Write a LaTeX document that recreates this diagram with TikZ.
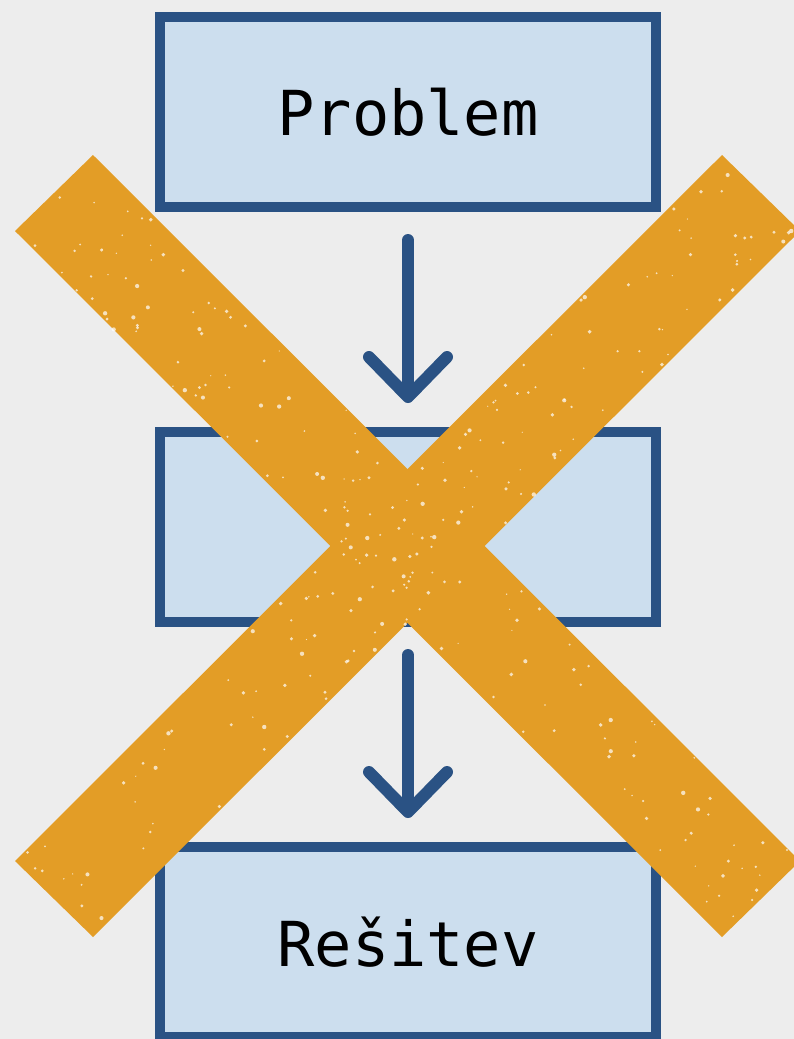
\documentclass[tikz,border=0pt]{standalone}
\usepackage{fontspec}
\setmonofont{DejaVu Sans Mono}
\usetikzlibrary{arrows.meta, positioning}
\definecolor{paper}{HTML}{EDEDED}
\definecolor{boxfill}{HTML}{CCDEEE}
\definecolor{boxline}{HTML}{2A5284}
\definecolor{crossorange}{HTML}{E39D26}

\begin{document}
\begin{tikzpicture}[
  x=1pt, y=-1pt,
  flowbox/.style={rectangle, draw=boxline, line width=10pt, fill=boxfill,
                  minimum width=496pt, minimum height=190pt, inner sep=0pt,
                  font=\ttfamily\fontsize{62}{70}\selectfont},
  flowarrow/.style={-{Straight Barb[round, length=40pt, width=78pt]},
                    line width=12pt, draw=boxline, line cap=round,
                    shorten <=28pt, shorten >=24pt},
  crossband/.style={fill=crossorange},
  speck/.style={fill=white, opacity=0.7}
]
  % page and background
  \fill[paper] (0,0) rectangle (794,1039);
  \useasboundingbox (0,0) rectangle (794,1039);
  \clip (0,0) rectangle (794,1039);

  % flow
  \node[flowbox] (problem) at (408,112) {Problem};
  \node[flowbox] (middle)  at (408,527) {};
  \node[flowbox] (solution) at (408,942) {Rešitev};

  \draw[flowarrow] (problem.south) -- (middle.north);
  \draw[flowarrow] (middle.south) -- (solution.north);

  % crossing out
  \fill[crossband] (93,155) -- (15,231) -- (722,937) -- (800,861) -- cycle;
  \fill[crossband] (722,155) -- (800,231) -- (93,937) -- (15,861) -- cycle;

  % worn specks
  \pgfmathsetseed{42}
  \foreach \i in {1,...,150}{
    \pgfmathsetmacro{\tpos}{rnd}
    \pgfmathsetmacro{\spos}{rnd}
    \pgfmathsetmacro{\rad}{0.6+1.6*rnd}
    \fill[speck] ({15+707*\tpos+78*\spos},{231+706*\tpos-76*\spos}) circle (\rad pt);
  }
  \foreach \i in {1,...,150}{
    \pgfmathsetmacro{\tpos}{rnd}
    \pgfmathsetmacro{\spos}{rnd}
    \pgfmathsetmacro{\rad}{0.6+1.6*rnd}
    \fill[speck] ({800-707*\tpos-78*\spos},{231+706*\tpos-76*\spos}) circle (\rad pt);
  }
\end{tikzpicture}
\end{document}
